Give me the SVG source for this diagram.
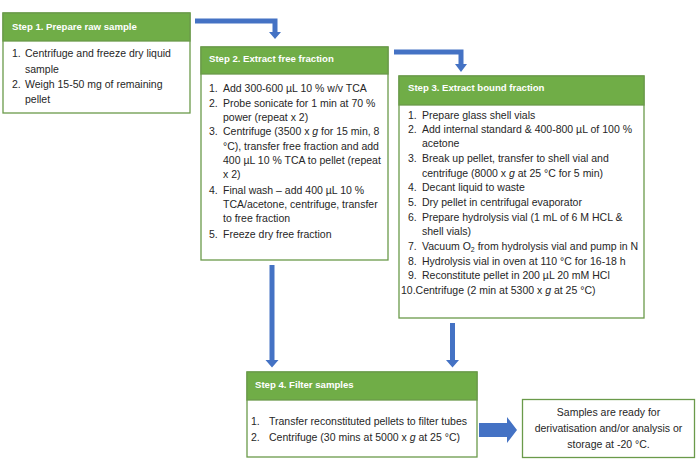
<svg xmlns="http://www.w3.org/2000/svg" width="700" height="474" viewBox="0 0 700 474">
<style>
.body{fill:#ffffff;stroke:#6a9a4a;stroke-width:1.3}
.head{fill:#70ad47;stroke:#6a9a4a;stroke-width:1.3}
.ht{font-family:"Liberation Sans",Arial,sans-serif;font-weight:bold;font-size:9.6px;fill:#ffffff}
.t{font-family:"Liberation Sans",Arial,sans-serif;font-size:10.5px;fill:#262626}
.c{text-anchor:middle}
.arrow{fill:#4472c4}
.i{font-style:italic}
</style>
<rect width="700" height="474" fill="#ffffff"/>
<g id="connectors">
<polygon class="arrow" points="195,18.5 277.5,18.5 277.5,32 281,32 275,39 269,32 272.5,32 272.5,23.5 195,23.5"/>
<polygon class="arrow" points="394,49.5 463.5,49.5 463.5,64 467,64 461,72 455,64 458.5,64 458.5,54.5 394,54.5"/>
<polygon class="arrow" points="269.5,265 274.5,265 274.5,360 278.5,360 272,367.5 265.5,360 269.5,360"/>
<polygon class="arrow" points="450,323 455,323 455,360 459,360 452.5,367.5 446,360 450,360"/>
<polygon class="arrow" points="479,423 507,423 507,417 517,430 507,443 507,437 479,437"/>
</g>
<g id="step1">
<rect class="body" x="3" y="13" width="187" height="100"/>
<rect class="head" x="3" y="13" width="187" height="28"/>
<text class="ht" x="12" y="29.5">Step 1. Prepare raw sample</text>
<text class="t" x="12" y="57">1.</text><text class="t" x="25" y="57">Centrifuge and freeze dry liquid</text>
<text class="t" x="25" y="72.5">sample</text>
<text class="t" x="12" y="87.5">2.</text><text class="t" x="25" y="87.5">Weigh 15-50 mg of remaining</text>
<text class="t" x="25" y="103">pellet</text>
</g>
<g id="step2">
<rect class="body" x="201" y="47" width="187" height="213"/>
<rect class="head" x="201" y="47" width="187" height="27"/>
<text class="ht" x="209" y="62">Step 2. Extract free fraction</text>
<text class="t" x="209" y="92">1.</text><text class="t" x="223" y="92">Add 300-600 µL 10 % w/v TCA</text>
<text class="t" x="209" y="106.5">2.</text><text class="t" x="223" y="106.5">Probe sonicate for 1 min at 70 %</text>
<text class="t" x="223" y="120.5">power (repeat x 2)</text>
<text class="t" x="209" y="135">3.</text><text class="t" x="223" y="135">Centrifuge (3500 x <tspan class="i">g</tspan> for 15 min, 8</text>
<text class="t" x="223" y="150">°C), transfer free fraction and add</text>
<text class="t" x="223" y="164">400 µL 10 % TCA to pellet (repeat</text>
<text class="t" x="223" y="178">x 2)</text>
<text class="t" x="209" y="193.5">4.</text><text class="t" x="223" y="193.5">Final wash – add 400 µL 10 %</text>
<text class="t" x="223" y="208">TCA/acetone, centrifuge, transfer</text>
<text class="t" x="223" y="222">to free fraction</text>
<text class="t" x="209" y="238">5.</text><text class="t" x="223" y="238">Freeze dry free fraction</text>
</g>
<g id="step3">
<rect class="body" x="399" y="76" width="245" height="242"/>
<rect class="head" x="399" y="76" width="245" height="29"/>
<text class="ht" x="408" y="91">Step 3. Extract bound fraction</text>
<text class="t" x="408" y="119">1.</text><text class="t" x="422" y="119">Prepare glass shell vials</text>
<text class="t" x="408" y="133">2.</text><text class="t" x="422" y="133">Add internal standard &amp; 400-800 µL of 100 %</text>
<text class="t" x="422" y="147">acetone</text>
<text class="t" x="408" y="162">3.</text><text class="t" x="422" y="162">Break up pellet, transfer to shell vial and</text>
<text class="t" x="422" y="176.5">centrifuge (8000 x <tspan class="i">g</tspan> at 25 °C for 5 min)</text>
<text class="t" x="408" y="191">4.</text><text class="t" x="422" y="191">Decant liquid to waste</text>
<text class="t" x="408" y="205.5">5.</text><text class="t" x="422" y="205.5">Dry pellet in centrifugal evaporator</text>
<text class="t" x="408" y="220.5">6.</text><text class="t" x="422" y="220.5">Prepare hydrolysis vial (1 mL of 6 M HCL &amp;</text>
<text class="t" x="422" y="234.5">shell vials)</text>
<text class="t" x="408" y="249.5">7.</text><text class="t" x="422" y="249.5">Vacuum O<tspan font-size="7" dy="2">2</tspan><tspan dy="-2"> from hydrolysis vial and pump in N</tspan></text>
<text class="t" x="408" y="264.5">8.</text><text class="t" x="422" y="264.5">Hydrolysis vial in oven at 110 °C for 16-18 h</text>
<text class="t" x="408" y="278.5">9.</text><text class="t" x="422" y="278.5">Reconstitute pellet in 200 µL 20 mM HCl</text>
<text class="t" x="401" y="293.5">10.Centrifuge (2 min at 5300 x <tspan class="i">g</tspan> at 25 °C)</text>
</g>
<g id="step4">
<rect class="body" x="247" y="372" width="230" height="85"/>
<rect class="head" x="247" y="372" width="230" height="28"/>
<text class="ht" x="255" y="387.5">Step 4. Filter samples</text>
<text class="t" x="251" y="424.5">1.</text><text class="t" x="269" y="424.5">Transfer reconstituted pellets to filter tubes</text>
<text class="t" x="251" y="441">2.</text><text class="t" x="269" y="441">Centrifuge (30 mins at 5000 x <tspan class="i">g</tspan> at 25 °C)</text>
</g>
<g id="result">
<rect class="body" x="522.5" y="399.5" width="172" height="58"/>
<text class="t c" x="608.5" y="416">Samples are ready for</text>
<text class="t c" x="608.5" y="432">derivatisation and/or analysis or</text>
<text class="t c" x="608.5" y="447.5">storage at -20 °C.</text>
</g>
</svg>
